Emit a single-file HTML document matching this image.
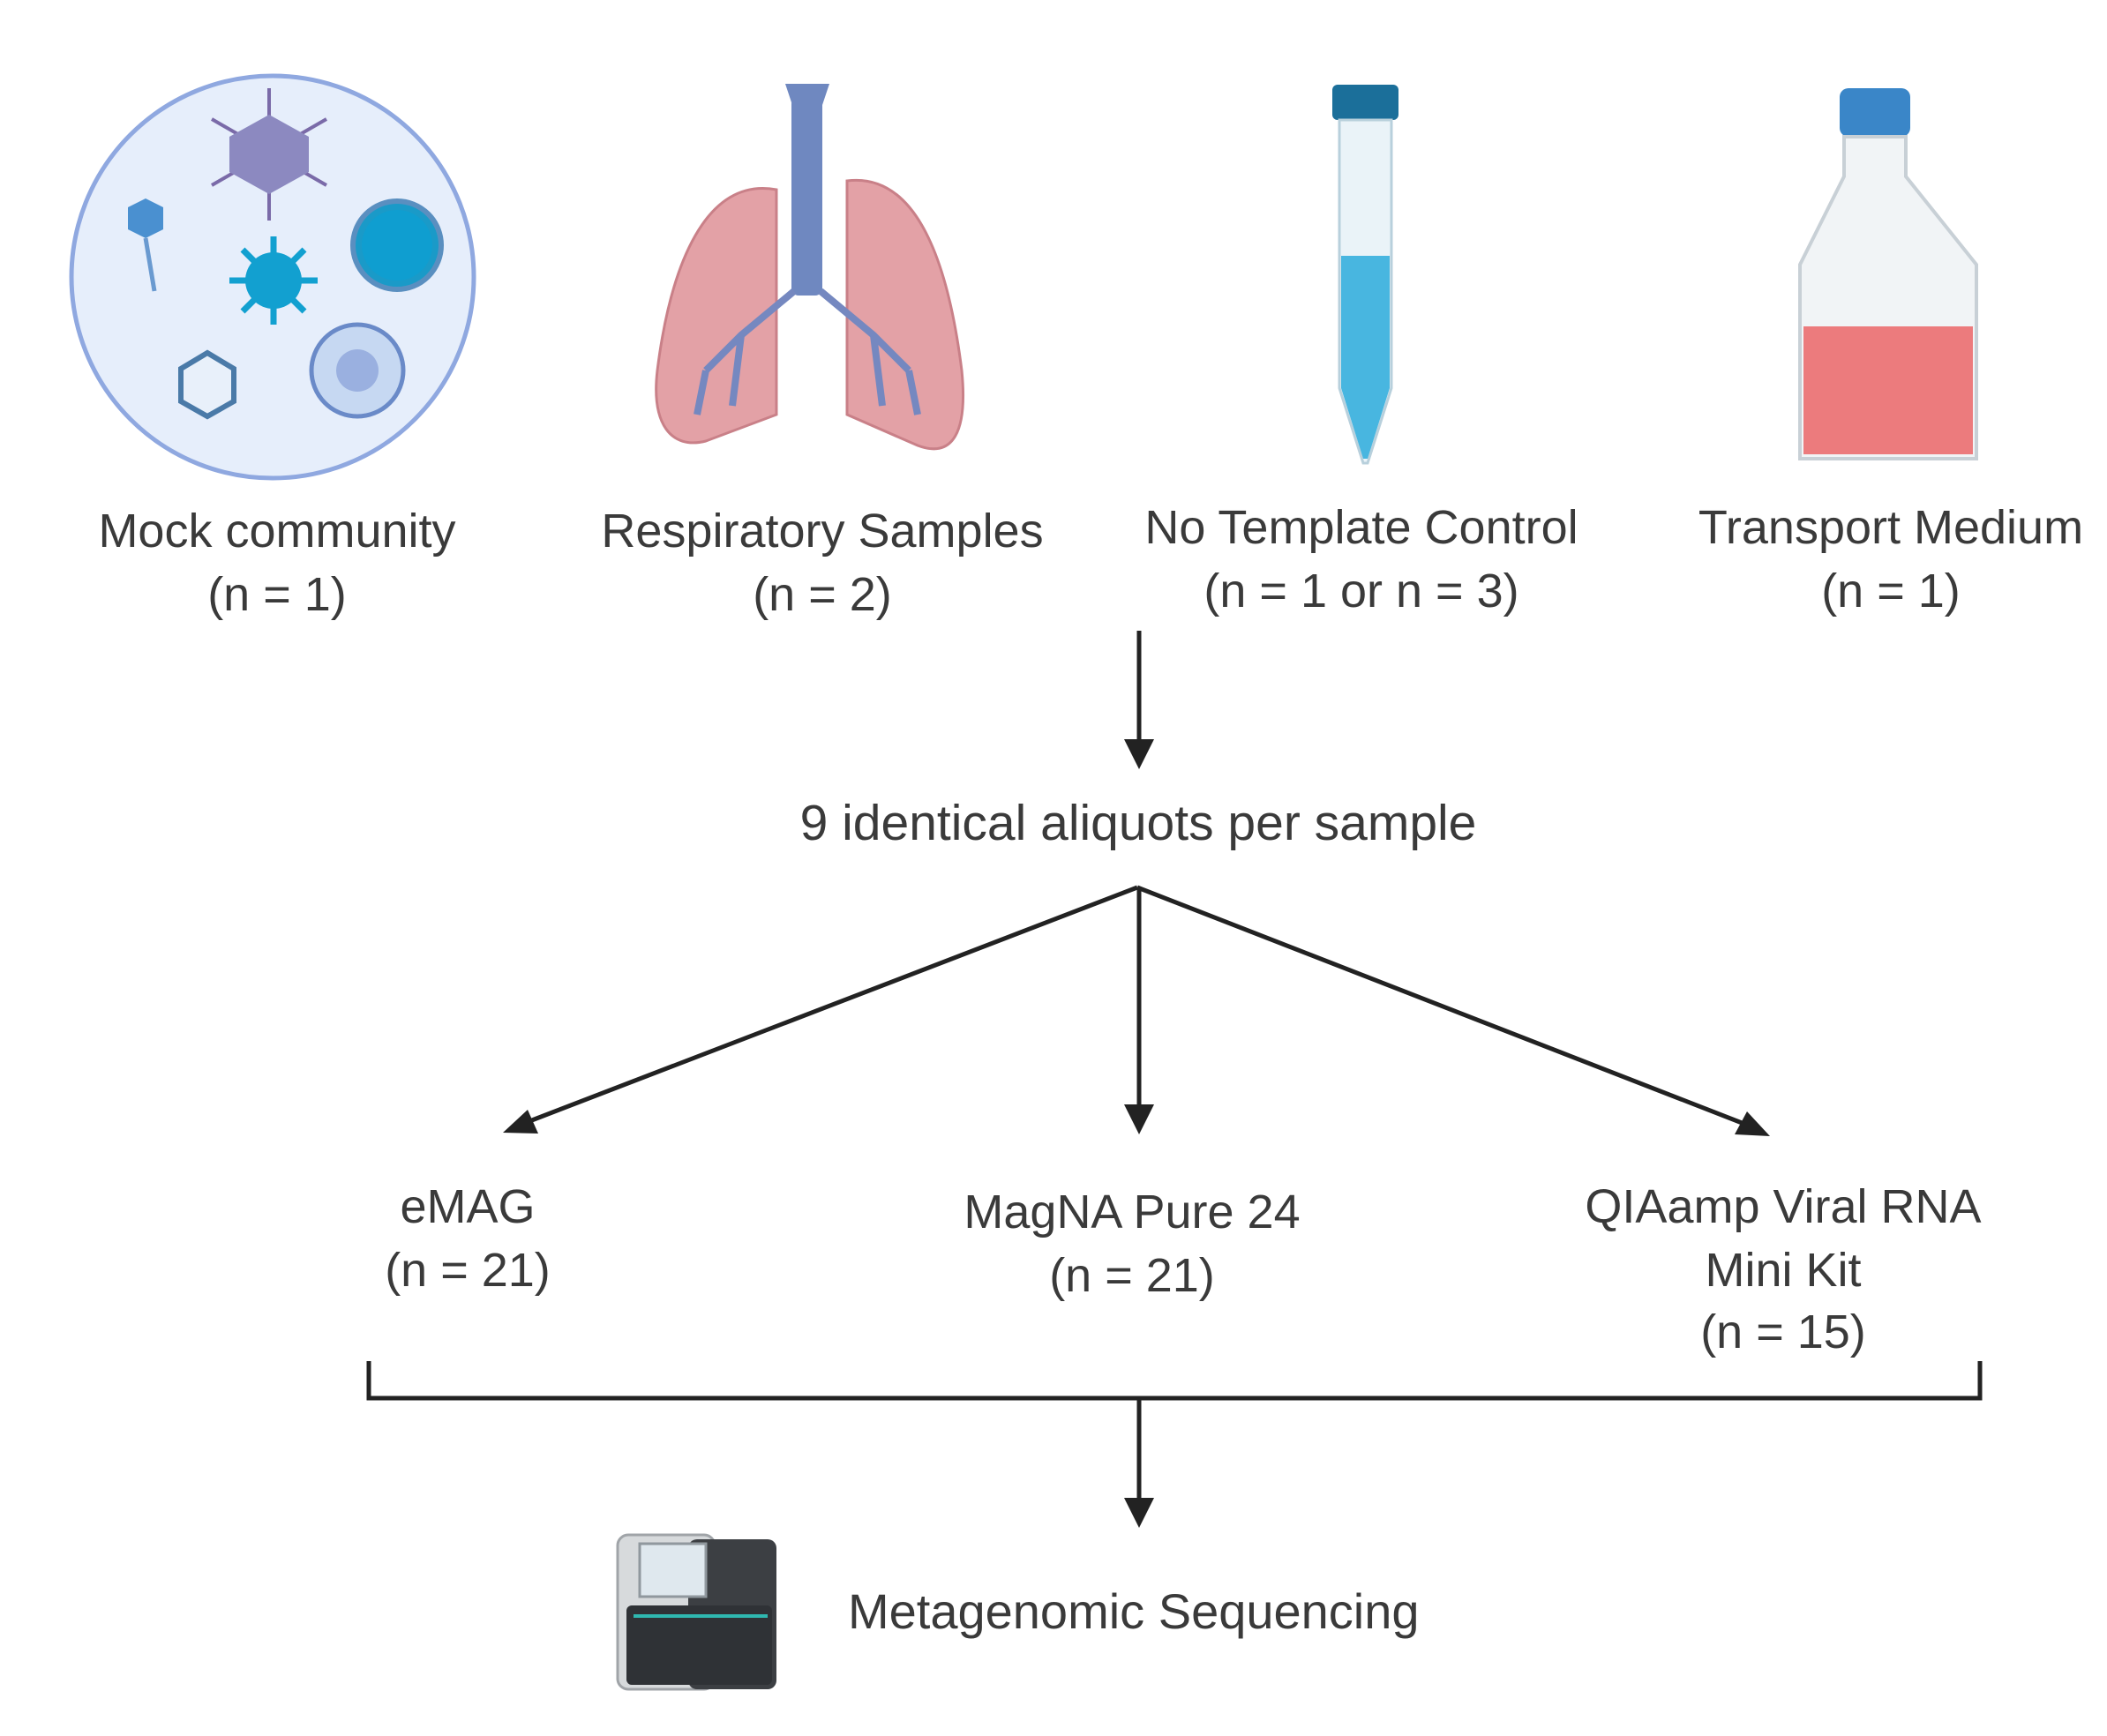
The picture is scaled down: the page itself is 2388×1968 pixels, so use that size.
<!DOCTYPE html>
<html><head><meta charset="utf-8"><style>
html,body{margin:0;padding:0;background:#fff;}
svg{display:block}
text{font-family:"Liberation Sans",sans-serif;fill:#3a3a3a;font-size:54px;text-anchor:middle}
.big{font-size:57px}
</style></head><body>
<svg width="2388" height="1968" viewBox="0 0 2388 1968" xmlns="http://www.w3.org/2000/svg">
<!-- Mock community circle -->
<circle cx="309" cy="314" r="228" fill="#e6eefb" stroke="#8fa8e0" stroke-width="5"/>
<g stroke="#7a6aa8" stroke-width="4">
<line x1="305" y1="100" x2="305" y2="250"/><line x1="240" y1="135" x2="370" y2="210"/><line x1="240" y1="210" x2="370" y2="135"/>
</g>
<polygon points="305,130 350,155 350,195 305,220 260,195 260,155" fill="#8c89c0"/>
<circle cx="310" cy="318" r="32" fill="#12a0d0"/>
<g stroke="#12a0d0" stroke-width="7"><line x1="260" y1="318" x2="360" y2="318"/><line x1="310" y1="268" x2="310" y2="368"/><line x1="275" y1="283" x2="345" y2="353"/><line x1="275" y1="353" x2="345" y2="283"/></g>
<circle cx="450" cy="278" r="50" fill="#1a9ac8" stroke="#5a8fc0" stroke-width="6"/>
<circle cx="450" cy="278" r="40" fill="#0f9ed0"/>
<polygon points="165,225 185,235 185,260 165,270 145,260 145,235" fill="#4a90d0"/>
<line x1="165" y1="270" x2="175" y2="330" stroke="#6a9ad0" stroke-width="5"/>
<polygon points="235,400 265,418 265,455 235,472 205,455 205,418" fill="#e8f0fa" stroke="#4a7aa8" stroke-width="6"/>
<circle cx="405" cy="420" r="52" fill="#c6d8f2" stroke="#6a8ac8" stroke-width="5"/>
<circle cx="405" cy="420" r="24" fill="#9ab0e0"/>
<!-- Lungs -->
<path d="M880,215 C800,200 760,300 745,420 C738,480 760,510 800,500 L880,470 Z" fill="#e3a1a6" stroke="#c98088" stroke-width="3"/>
<path d="M960,205 C1040,195 1075,300 1090,420 C1097,490 1080,520 1040,505 L960,470 Z" fill="#e3a1a6" stroke="#c98088" stroke-width="3"/>
<rect x="897" y="110" width="35" height="225" rx="8" fill="#6f88c0"/>
<path d="M890,95 L940,95 L930,125 L900,125 Z" fill="#6f88c0"/>
<g stroke="#7588c0" stroke-width="8" fill="none"><path d="M900,330 L840,380 L800,420 M840,380 L830,460 M800,420 L790,470"/><path d="M930,330 L990,380 L1030,420 M990,380 L1000,460 M1030,420 L1040,470"/></g>
<!-- Tube -->
<rect x="1510" y="96" width="75" height="40" rx="6" fill="#1b6f9a"/>
<path d="M1518,136 L1577,136 L1577,440 L1550,525 L1545,525 L1518,440 Z" fill="#eaf3f8" stroke="#b8d0dc" stroke-width="3"/>
<path d="M1520,290 L1575,290 L1575,440 L1550,520 L1545,520 L1520,440 Z" fill="#48b6e0"/>
<!-- Flask -->
<rect x="2085" y="100" width="80" height="55" rx="10" fill="#3a86c8"/>
<path d="M2090,155 L2160,155 L2160,200 L2240,300 L2240,520 L2040,520 L2040,300 L2090,200 Z" fill="#f1f4f6" stroke="#c8d0d6" stroke-width="4"/>
<rect x="2044" y="370" width="192" height="145" fill="#ec7b7d"/>
<!-- labels -->
<text x="314" y="620">Mock community</text><text x="314" y="692">(n = 1)</text>
<text x="932" y="620">Respiratory Samples</text><text x="932" y="692">(n = 2)</text>
<text x="1543" y="616">No Template Control</text><text x="1543" y="688">(n = 1 or n = 3)</text>
<text x="2143" y="616">Transport Medium</text><text x="2143" y="688">(n = 1)</text>
<text class="big" x="1290" y="952">9 identical aliquots per sample</text>
<text x="530" y="1386">eMAG</text><text x="530" y="1458">(n = 21)</text>
<text x="1283" y="1392">MagNA Pure 24</text><text x="1283" y="1464">(n = 21)</text>
<text x="2021" y="1386">QIAamp Viral RNA</text><text x="2021" y="1458">Mini Kit</text><text x="2021" y="1528">(n = 15)</text>
<text x="961" y="1846" style="text-anchor:start;font-size:56px">Metagenomic Sequencing</text>
<!-- connectors -->
<g stroke="#222" stroke-width="5" fill="none">
<line x1="1291" y1="715" x2="1291" y2="845"/>
<line x1="1289" y1="1006" x2="595" y2="1273"/>
<line x1="1291" y1="1006" x2="1291" y2="1262"/>
<line x1="1289" y1="1006" x2="1982" y2="1276"/>
<polyline points="418,1543 418,1585 2244,1585 2244,1543"/>
<line x1="1291" y1="1585" x2="1291" y2="1706"/>
</g>
<g fill="#222">
<polygon points="1291,872 1274,838 1308,838"/>
<polygon points="1291,1286 1274,1252 1308,1252"/>
<polygon points="1291,1732 1274,1698 1308,1698"/>
<polygon points="570,1284 598,1258 610,1285"/>
<polygon points="2006,1288 1966,1286 1980,1260"/>
</g>
<!-- sequencer -->
<rect x="700" y="1740" width="110" height="175" rx="12" fill="#d7dadc" stroke="#a0a4a8" stroke-width="3"/>
<rect x="780" y="1745" width="100" height="170" rx="10" fill="#3c3f43"/>
<rect x="725" y="1750" width="75" height="60" fill="#dfe8ee" stroke="#90989e" stroke-width="3"/>
<rect x="710" y="1820" width="165" height="90" rx="6" fill="#2f3236"/>
<line x1="718" y1="1832" x2="870" y2="1832" stroke="#2fb8b0" stroke-width="4"/>
</svg>
</body></html>
